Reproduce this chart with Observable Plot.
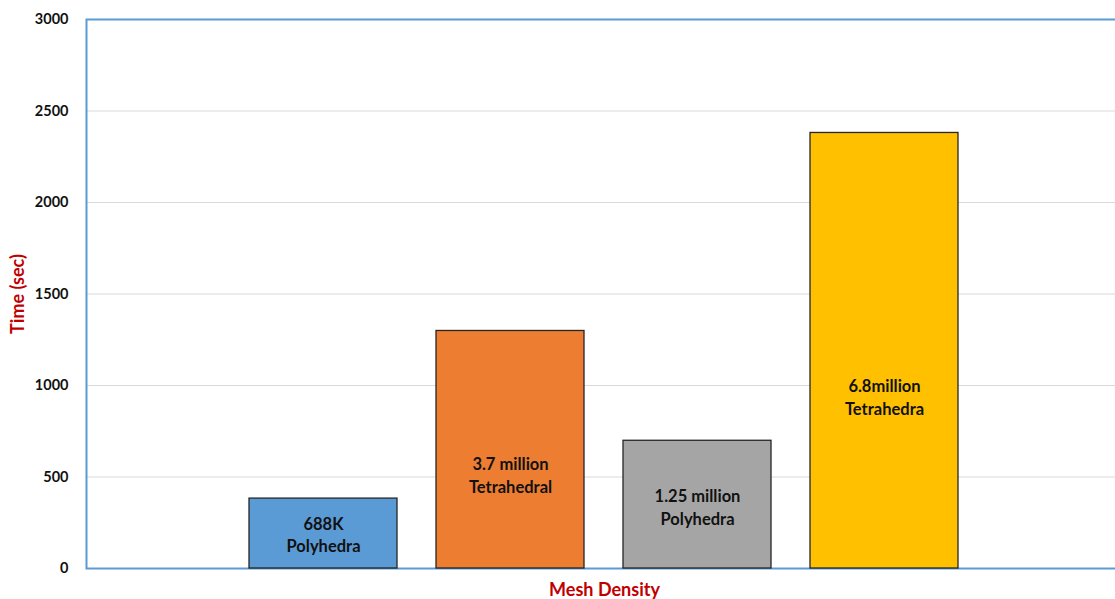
<!DOCTYPE html>
<html>
<head>
<meta charset="utf-8">
<script src="https://cdn.jsdelivr.net/npm/d3@7"></script>
<script src="https://cdn.jsdelivr.net/npm/@observablehq/plot@0.6"></script>
<style>
  body { margin: 0; background: #fff; }
  #chart { width: 1115px; height: 599px; overflow: hidden; }
</style>
</head>
<body>
<div id="chart"></div>
<script>
// Solver time for each mesh
const meshes = ["688K Polyhedra", "3.7 million Tetrahedral", "1.25 million Polyhedra", "6.8million Tetrahedra"];
const labelLines = ["688K\nPolyhedra", "3.7 million\nTetrahedral", "1.25 million\nPolyhedra", "6.8million\nTetrahedra"];
const times = [382, 1298, 698, 2380];
// height (in seconds) at which each bar's caption sits
const labelAt = [190, 515, 340, 940];
const colors = ["#5b9bd5", "#ed7d31", "#a5a5a5", "#ffc000"];
const yTicks = [0, 500, 1000, 1500, 2000, 2500, 3000];
const gridTicks = [500, 1000, 1500, 2000, 2500];

const data = meshes.map((m, i) => ({mesh: m, time: times[i], label: labelLines[i], at: labelAt[i]}));

const chart = Plot.plot({
  width: 1122,
  height: 599,
  marginLeft: 86,
  marginRight: 0,
  marginTop: 19,
  marginBottom: 31,
  style: {fontFamily: "Lato, 'Open Sans', sans-serif", fontSize: "14px", color: "#000", background: "#fff", maxWidth: "none"},
  x: {domain: meshes, range: [247, 960], paddingInner: 0.2074, paddingOuter: 0, axis: null},
  y: {domain: [0, 3000]},
  color: {domain: meshes, range: colors},
  marks: [
    Plot.ruleY(gridTicks, {stroke: "#d9d9d9", strokeWidth: 1}),
    Plot.frame({stroke: "#5b9bd5", strokeWidth: 2}),
    Plot.axisY({ticks: yTicks, tickFormat: d => String(d), tickSize: 0, tickPadding: 18, label: null, fontWeight: "bold", fontSize: 14.5, fill: "#111"}),
    Plot.barY(data, {x: "mesh", y: "time", fill: "mesh", stroke: "#262626", strokeWidth: 1.3}),
    Plot.text(data, {x: "mesh", y: "at", text: "label", fontWeight: "bold", fontSize: 16.5, lineHeight: 1.35, fill: "#111"}),
    Plot.text(["Time (sec)"], {frameAnchor: "left", rotate: -90, dx: -68, textAnchor: "middle", fill: "#c00000", fontWeight: "bold", fontSize: 18}),
    Plot.text(["Mesh Density"], {frameAnchor: "bottom", dy: 27, textAnchor: "middle", fill: "#c00000", fontWeight: "bold", fontSize: 18})
  ]
});

document.getElementById("chart").appendChild(chart);
</script>
</body>
</html>
